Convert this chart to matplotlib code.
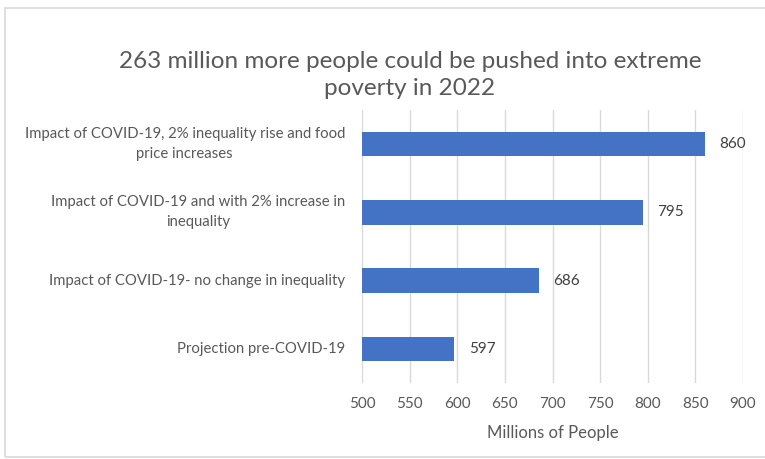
import matplotlib
matplotlib.use("Agg")
import matplotlib.pyplot as plt
from matplotlib.patches import Rectangle
from matplotlib.transforms import blended_transform_factory

categories = [
    "Projection pre-COVID-19",
    "Impact of COVID-19- no change in inequality",
    "Impact of COVID-19 and with 2% increase in\ninequality",
    "Impact of COVID-19, 2% inequality rise and food\nprice increases",
]
values = [597, 686, 795, 860]
xticks = [500, 550, 600, 650, 700, 750, 800, 850, 900]
title = "263 million more people could be pushed into extreme\npoverty in 2022"
xlabel = "Millions of People"

plt.rcParams['font.family'] = ['Lato', 'DejaVu Sans']
txt = '#595959'

fig = plt.figure(figsize=(7.65, 4.59), dpi=100)
fig.patches.append(Rectangle((5/765, 1-457/459), 1.0, 449/459, transform=fig.transFigure,
                             fill=False, edgecolor='#D9D9D9', linewidth=1.2))
ax = fig.add_axes([362/765, 1-383/459, 381/765, 273/459])
y = list(range(len(categories)))
ax.barh(y, values, height=0.36, color='#4472C4', zorder=3)
for yi, v in zip(y, values):
    ax.text(v + 15, yi, str(v), va='center', ha='left', fontsize=11, color='#404040')
ax.set_xlim(500, 900)
ax.set_ylim(-0.5, len(categories) - 0.5)
ax.set_xticks(xticks)
ax.set_yticks(y)
ax.set_yticklabels([])
trans = blended_transform_factory(ax.transAxes, ax.transData)
for yi, lab in zip(y, categories):
    ax.text(-17/381, yi, lab, transform=trans, ha='right', va='center',
            multialignment='center', fontsize=10.7, color=txt, linespacing=1.55)
ax.tick_params(axis='x', labelsize=11, labelcolor=txt, length=0, pad=10)
ax.tick_params(axis='y', length=0)
ax.grid(axis='x', color='#D9D9D9', linewidth=1, zorder=0)
for s in ax.spines.values():
    s.set_visible(False)
ax.set_xlabel(xlabel, fontsize=12, color=txt, labelpad=10)
fig.text(410/765, 1-75/459, title, ha='center', va='center', fontsize=17.5, color=txt,
         linespacing=1.35)
fig.savefig('out.png', dpi=100)
